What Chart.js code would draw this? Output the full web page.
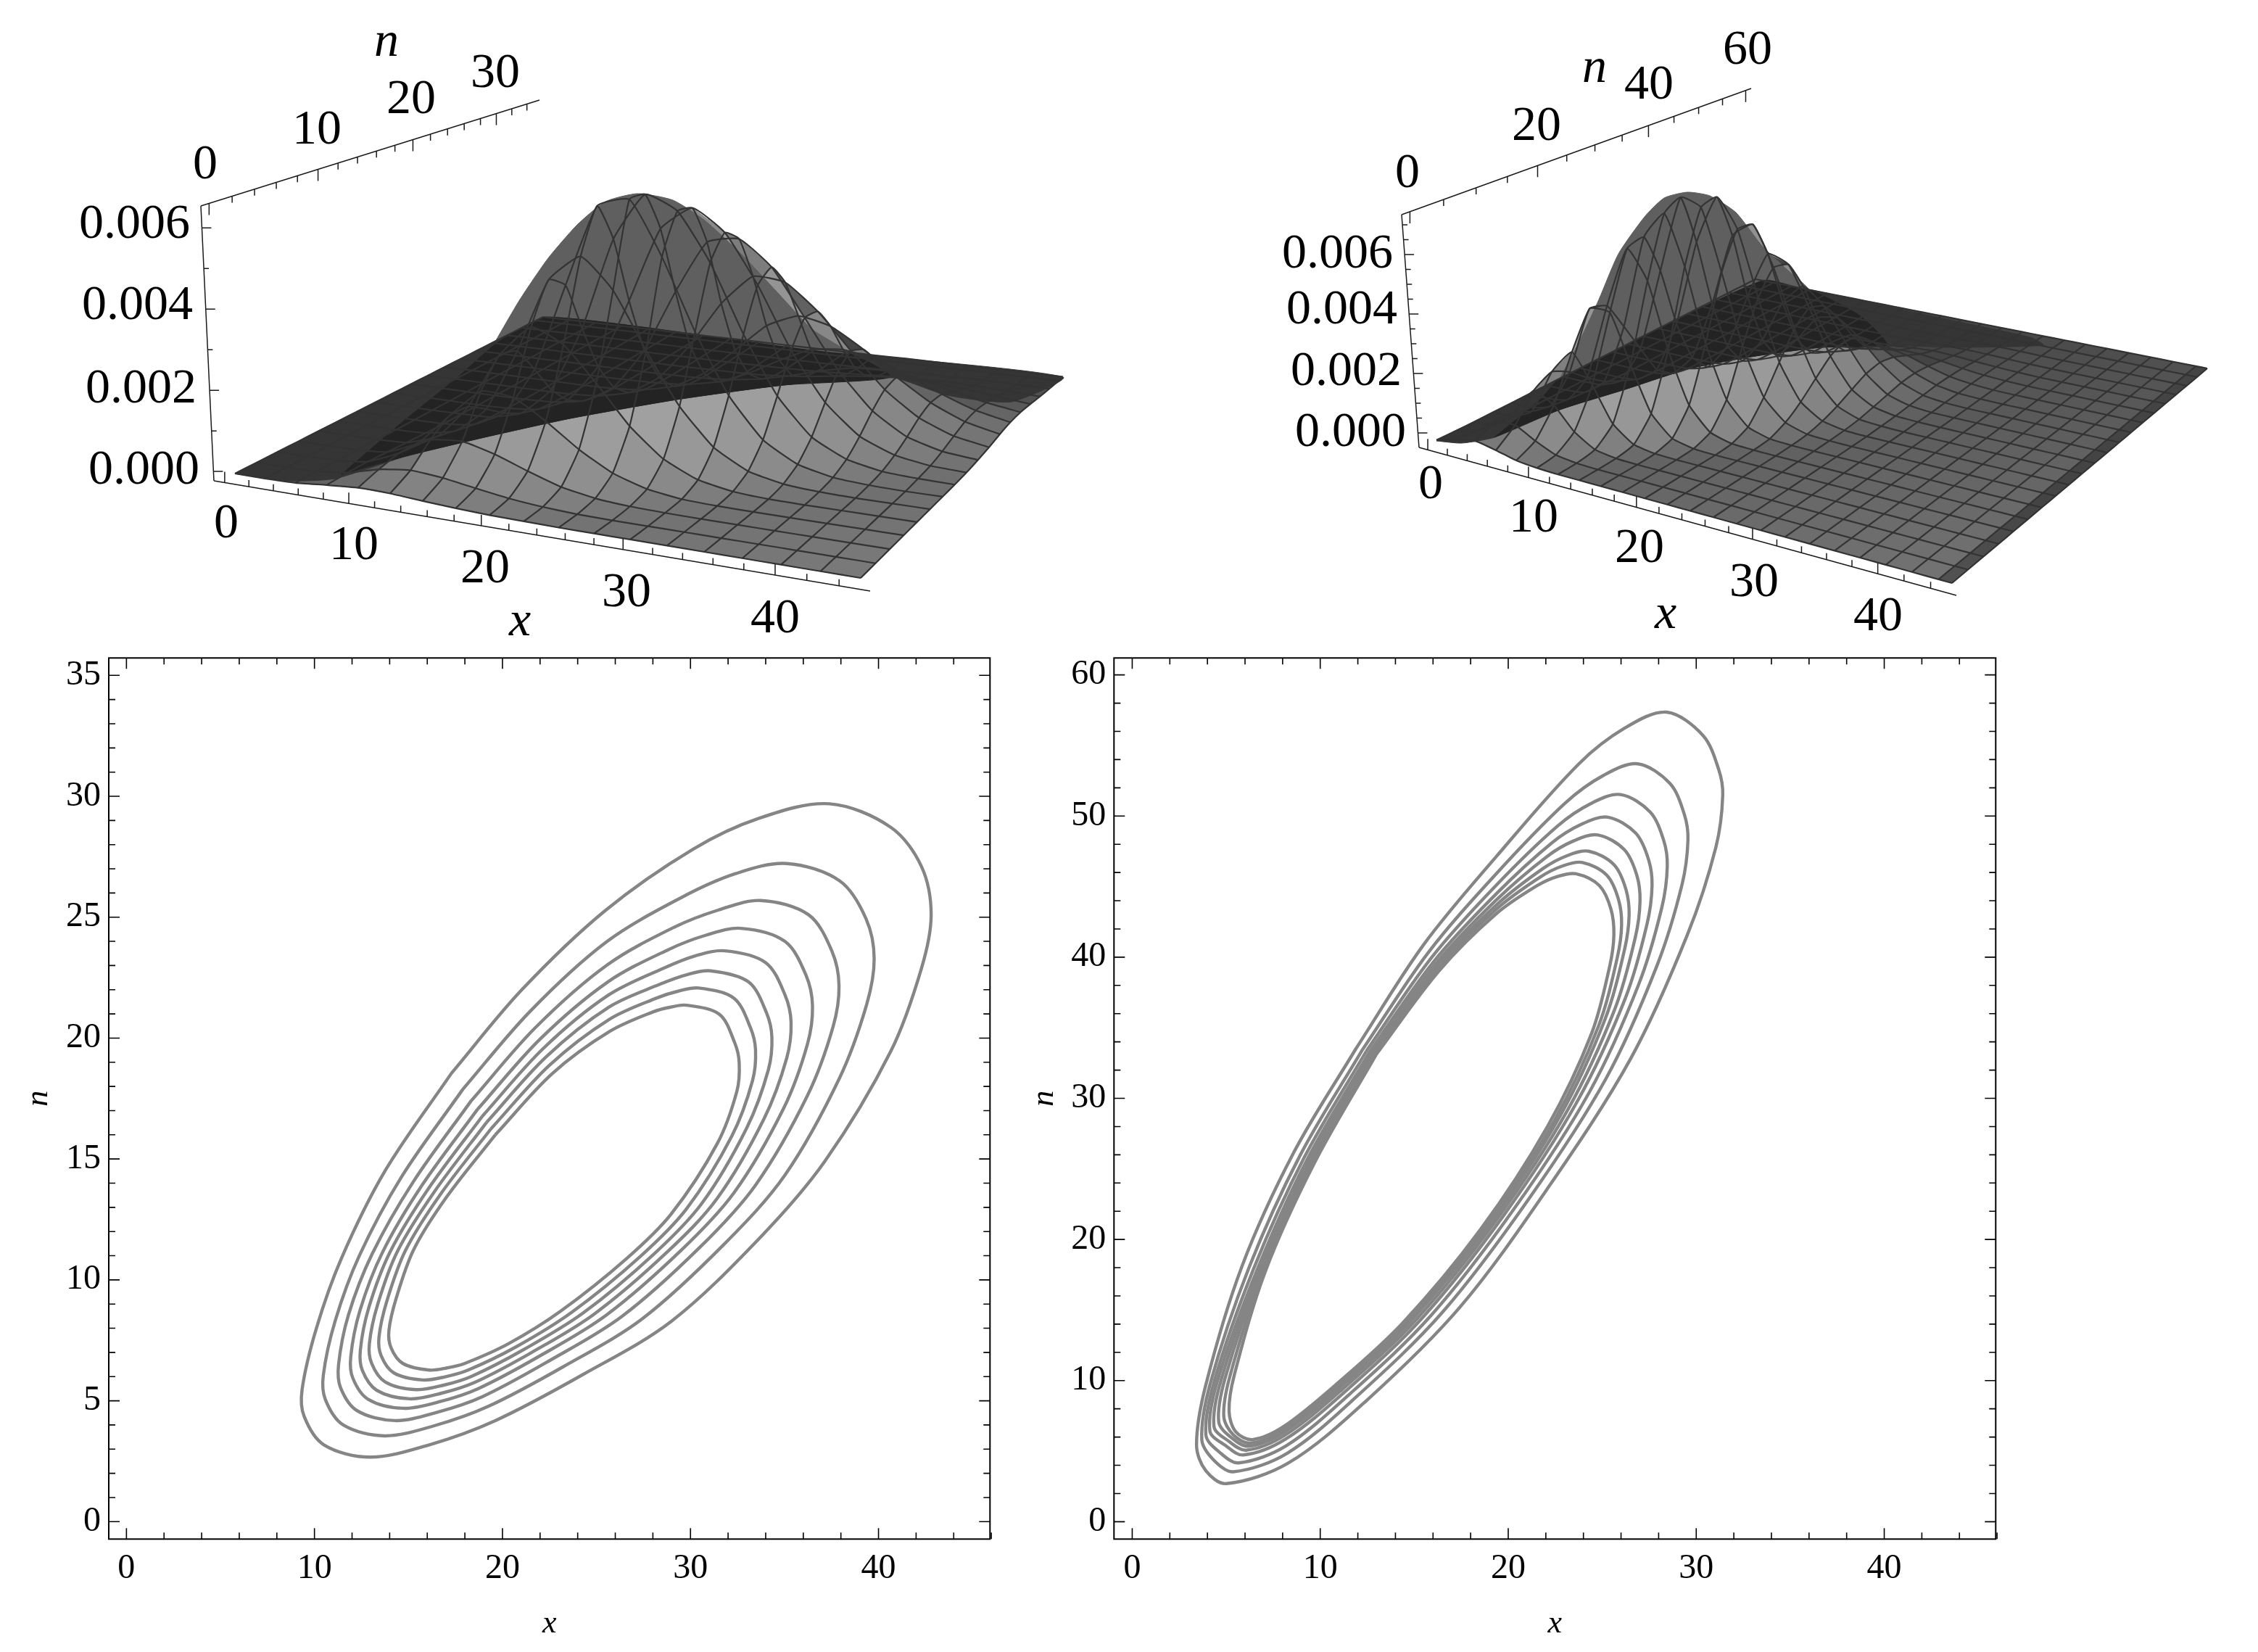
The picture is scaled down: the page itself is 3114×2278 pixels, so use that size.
<!DOCTYPE html>
<html>
<head>
<meta charset="utf-8">
<title>Surface and contour plots</title>
<script src="https://cdn.jsdelivr.net/npm/chart.js@4/dist/chart.umd.js"></script>
<style>
html, body { margin: 0; background: #fff; }
#page { position: relative; width: 3114px; height: 2278px; overflow: hidden; background: #fff; }
canvas { position: absolute; }
</style>
</head>
<body>
<div id="page">
  <canvas id="surfaceLeft" width="1556" height="900" style="left:0;top:0"></canvas>
  <canvas id="surfaceRight" width="1558" height="900" style="left:1556px;top:0"></canvas>
  <canvas id="contourLeft" width="1390" height="1378" style="left:0;top:900px"></canvas>
  <canvas id="contourRight" width="1410" height="1378" style="left:1390px;top:900px"></canvas>
</div>
<script>
// surface heights are in units of 1e-5, rows follow the n grid, columns the x grid
const leftXGrid = [0, 2.5, 5, 7.5, 10, 12.5, 15, 17.5, 20, 22.5, 25, 27.5, 30, 32.5, 35, 37.5, 40, 42.5, 45];
const leftNGrid = [0, 2, 4, 6, 8, 10, 12, 14, 16, 18, 20, 22, 24, 26, 28, 30, 32, 34, 35];
const leftSurface = [
  [0,0,2,9,15,14,9,5,2,1,0,0,0,0,0,0,0,0,0],
  [0,0,2,11,31,41,35,23,12,5,1,0,0,0,0,0,0,0,0],
  [0,0,1,11,43,87,95,76,48,23,9,3,1,0,0,0,0,0,0],
  [0,0,1,8,42,120,191,186,140,84,40,15,4,1,0,0,0,0,0],
  [0,0,1,5,32,117,255,334,300,217,125,58,21,6,1,0,0,0,0],
  [0,0,0,3,20,86,242,429,495,420,283,158,71,26,8,2,0,0,0],
  [0,0,0,1,10,51,173,395,602,625,490,315,170,74,27,8,2,0,0],
  [0,0,0,1,4,25,97,264,500,620,585,464,296,155,66,24,7,2,0],
  [0,0,0,0,2,10,45,143,322,515,575,520,396,243,125,53,19,5,1],
  [0,0,0,0,1,4,18,65,172,333,469,485,421,302,180,90,37,13,4],
  [0,0,0,0,0,1,7,26,77,172,290,369,362,296,205,118,58,24,8],
  [0,0,0,0,0,0,2,9,29,74,145,219,254,236,186,125,71,34,14],
  [0,0,0,0,0,0,1,3,10,27,60,105,143,153,137,104,68,37,18],
  [0,0,0,0,0,0,0,1,3,9,21,41,64,81,82,70,51,32,18],
  [0,0,0,0,0,0,0,0,1,2,6,14,25,35,41,39,33,23,14],
  [0,0,0,0,0,0,0,0,0,1,2,4,8,13,16,18,17,13,9],
  [0,0,0,0,0,0,0,0,0,0,1,1,2,4,5,6,7,6,5],
  [0,0,0,0,0,0,0,0,0,0,0,0,1,1,2,2,2,2,2],
  [0,0,0,0,0,0,0,0,0,0,0,0,0,1,1,1,1,1,1]
];

const rightXGrid = [0,2,4,6,8,10,12,14,16,18,20,22,24,26,28,30,32,34,36,38,40,42,44,45];
const rightNGrid = [0,3,6,9,12,15,18,21,24,27,30,33,36,39,42,45,48,51,54,57,60];
const rightSurface = [
  [3,22,35,23,8,2,0,0,0,0,0,0,0,0,0,0,0,0,0,0,0,0,0,0],
  [1,17,67,73,39,11,2,0,0,0,0,0,0,0,0,0,0,0,0,0,0,0,0,0],
  [0,7,66,157,125,54,13,2,0,0,0,0,0,0,0,0,0,0,0,0,0,0,0,0],
  [0,2,38,190,273,178,65,14,2,0,0,0,0,0,0,0,0,0,0,0,0,0,0,0],
  [0,1,23,158,392,393,233,85,19,3,0,0,0,0,0,0,0,0,0,0,0,0,0,0],
  [0,1,14,108,373,585,488,268,98,24,4,1,0,0,0,0,0,0,0,0,0,0,0,0],
  [0,0,8,64,272,599,694,524,276,102,27,5,1,0,0,0,0,0,0,0,0,0,0,0],
  [0,0,4,35,165,455,725,703,491,254,95,27,5,1,0,0,0,0,0,0,0,0,0,0],
  [0,0,1,9,61,240,543,715,615,390,184,65,17,3,0,0,0,0,0,0,0,0,0,0],
  [0,0,0,2,16,91,297,554,607,469,270,114,36,8,2,0,0,0,0,0,0,0,0,0],
  [0,0,0,0,3,25,117,311,477,453,314,161,61,18,4,1,0,0,0,0,0,0,0,0],
  [0,0,0,0,1,5,33,126,276,349,293,184,85,29,8,1,0,0,0,0,0,0,0,0],
  [0,0,0,0,0,0,7,37,114,207,221,167,94,39,12,3,0,0,0,0,0,0,0,0],
  [0,0,0,0,0,0,1,8,35,89,132,122,83,42,16,4,1,0,0,0,0,0,0,0],
  [0,0,0,0,0,0,0,1,7,28,59,72,59,36,16,6,1,0,0,0,0,0,0,0],
  [0,0,0,0,0,0,0,0,1,6,19,33,34,25,14,6,2,0,0,0,0,0,0,0],
  [0,0,0,0,0,0,0,0,0,1,4,11,16,14,9,5,2,0,0,0,0,0,0,0],
  [0,0,0,0,0,0,0,0,0,0,1,3,5,6,5,3,1,0,0,0,0,0,0,0],
  [0,0,0,0,0,0,0,0,0,0,0,0,1,2,2,2,1,0,0,0,0,0,0,0],
  [0,0,0,0,0,0,0,0,0,0,0,0,0,1,1,1,0,0,0,0,0,0,0,0],
  [0,0,0,0,0,0,0,0,0,0,0,0,0,0,0,0,0,0,0,0,0,0,0,0]
];

// tone regions seen on the surfaces, in plot pixels of each 3D panel
const leftDarkZone = [[324,653],[683,471],[756,436],[1169,487],[1466,520],[1395,554],[1306,545],[1228,520],[1081,531],[933,551],[786,577],[668,603],[560,629],[462,660],[393,663]];
const leftBand = [[471,654],[550,586],[629,522],[688,471],[756,436],[1169,487],[1228,520],[1081,531],[933,551],[786,577],[668,603],[560,629]];
const leftHumpTop = [[683,471],[717,413],[756,356],[796,310],[835,278],[879,267],[928,276],[972,304],[1022,350],[1071,402],[1120,454],[1169,487],[756,436]];
const rightDarkZone = [[1981,608],[2151,522],[2430,386],[2494,399],[2692,442],[2800,465],[2818,476],[2692,479],[2602,476],[2512,479],[2421,491],[2331,508],[2241,537],[2151,565],[2061,603],[2016,611]];
const rightBand = [[2061,603],[2124,551],[2151,522],[2430,386],[2494,399],[2566,436],[2602,476],[2512,479],[2421,491],[2331,508],[2241,537],[2151,565]];
const rightHumpTop = [[2151,522],[2178,471],[2205,413],[2232,350],[2268,299],[2295,273],[2327,265],[2358,270],[2394,293],[2430,339],[2466,373],[2494,399],[2430,386]];

// contour lines [x, n]
const leftContour1 = [[17.28,18.54],[21.02,21.99],[25.46,25.27],[30.13,27.81],[33.64,29.09],[37.38,29.69],[40.65,28.72],[42.29,27.09],[42.80,25.09],[42.29,22.90],[40.65,19.45],[37.14,14.90],[33.64,11.70],[28.97,8.28],[24.29,6.09],[19.62,4.18],[16.11,3.18],[12.96,2.67],[10.50,3.18],[9.45,4.36],[9.34,5.45],[10.10,7.99],[11.44,10.90],[13.78,14.54]];
const leftContour2 = [[17.89,17.88],[21.45,21.09],[25.52,23.97],[29.51,25.81],[32.40,26.80],[35.12,27.22],[37.94,26.50],[39.34,24.93],[39.77,23.28],[39.37,21.39],[37.91,18.32],[35.02,14.33],[31.82,11.50],[27.45,8.40],[23.26,6.42],[19.22,4.76],[16.34,3.96],[13.73,3.55],[11.53,4.00],[10.58,5.05],[10.47,6.05],[11.10,8.30],[12.38,10.99],[14.63,14.26]];
const leftContour3 = [[18.33,17.40],[21.76,20.44],[25.56,23.02],[29.12,24.58],[31.50,25.30],[33.73,25.69],[36.28,25.10],[37.52,23.60],[37.90,22.16],[37.58,20.46],[36.22,17.62],[33.46,13.92],[30.49,11.34],[26.34,8.48],[22.50,6.66],[18.93,5.17],[16.50,4.52],[14.28,4.18],[12.27,4.59],[11.39,5.54],[11.28,6.48],[11.80,8.53],[13.06,11.06],[15.25,14.05]];
const leftContour4 = [[18.66,17.04],[21.99,19.95],[25.60,22.32],[28.83,23.66],[30.80,24.25],[32.68,24.54],[35.02,24.00],[36.15,22.59],[36.49,21.32],[36.22,19.75],[34.95,17.09],[32.32,13.61],[29.50,11.22],[25.52,8.54],[21.95,6.84],[18.70,5.50],[16.64,4.96],[14.72,4.69],[12.86,5.06],[12.04,5.94],[11.93,6.82],[12.41,8.71],[13.60,11.11],[15.71,13.90]];
const leftContour5 = [[18.92,16.76],[22.17,19.57],[25.62,21.77],[28.60,22.90],[30.25,23.40],[31.83,23.61],[34.00,23.12],[35.03,21.78],[35.35,20.64],[35.12,19.18],[33.91,16.66],[31.42,13.37],[28.73,11.13],[24.87,8.58],[21.51,6.98],[18.52,5.76],[16.74,5.31],[15.07,5.08],[13.32,5.43],[12.55,6.25],[12.44,7.09],[12.89,8.85],[14.02,11.15],[16.07,13.78]];
const leftContour6 = [[19.15,16.51],[22.33,19.23],[25.64,21.27],[28.39,22.23],[29.80,22.62],[31.07,22.78],[33.09,22.32],[34.04,21.05],[34.33,20.03],[34.14,18.68],[32.99,16.28],[30.60,13.16],[28.03,11.05],[24.29,8.63],[21.11,7.11],[18.35,6.01],[16.84,5.64],[15.40,5.46],[13.76,5.78],[13.04,6.55],[12.92,7.35],[13.36,8.98],[14.42,11.19],[16.40,13.67]];
const leftContour7 = [[19.39,16.25],[22.50,18.88],[25.67,20.77],[28.21,21.66],[29.35,21.94],[30.43,22.07],[32.31,21.65],[33.19,20.43],[33.46,19.51],[33.30,18.24],[32.20,15.95],[29.79,12.94],[27.33,10.97],[23.70,8.67],[20.72,7.23],[18.17,6.27],[16.94,5.99],[15.75,5.86],[14.23,6.15],[13.55,6.86],[13.43,7.62],[13.85,9.12],[14.85,11.23],[16.72,13.56]];
const leftContour8 = [[19.62,16.00],[22.66,18.54],[25.69,20.27],[28.03,21.09],[28.95,21.28],[29.78,21.36],[31.54,20.98],[32.35,19.81],[32.59,18.99],[32.47,17.81],[31.42,15.63],[28.97,12.72],[26.63,10.90],[23.12,8.72],[20.32,7.36],[17.98,6.54],[17.05,6.36],[16.11,6.27],[14.71,6.54],[14.08,7.18],[13.96,7.90],[14.36,9.27],[15.29,11.27],[17.05,13.45]];

const rightContour1 = [[11.90,33.52],[15.48,40.85],[19.34,47.09],[23.75,53.69],[26.23,56.26],[28.43,57.36],[30.36,55.71],[31.19,53.32],[31.41,51.49],[31.05,47.82],[29.53,41.59],[26.50,32.78],[22.09,23.61],[17.41,15.17],[12.45,8.57],[8.32,4.17],[5.01,2.70],[3.91,3.62],[3.42,5.45],[3.91,9.67],[5.84,18.11],[8.60,26.18]];
const rightContour2 = [[12.23,33.41],[15.73,40.30],[19.34,45.88],[23.04,50.93],[25.08,52.89],[26.89,53.70],[28.60,52.31],[29.36,50.15],[29.56,48.32],[29.24,45.12],[27.90,39.36],[25.18,31.35],[21.02,22.73],[16.50,14.84],[11.96,8.90],[8.25,4.86],[5.38,3.54],[4.34,4.36],[3.70,5.83],[4.15,9.79],[6.21,18.00],[8.93,25.96]];
const rightContour3 = [[12.45,33.34],[15.90,39.94],[19.34,45.07],[22.62,49.29],[24.40,50.89],[25.97,51.52],[27.55,50.28],[28.27,48.27],[28.46,46.44],[28.17,43.52],[26.93,38.04],[24.30,30.40],[20.30,22.15],[15.90,14.62],[11.63,9.12],[8.19,5.38],[5.66,4.17],[4.66,4.91],[3.92,6.14],[4.35,9.88],[6.46,17.93],[9.15,25.81]];
const rightContour4 = [[12.62,33.28],[16.02,39.66],[19.34,44.46],[22.31,48.09],[23.90,49.42],[25.30,49.92],[26.78,48.79],[27.47,46.89],[27.65,45.06],[27.38,42.33],[26.22,37.06],[23.63,29.68],[19.76,21.71],[15.44,14.46],[11.38,9.29],[8.14,5.84],[5.91,4.73],[4.95,5.41],[4.13,6.43],[4.53,9.97],[6.65,17.87],[9.32,25.70]];
const rightContour5 = [[12.74,33.24],[16.11,39.46],[19.34,44.02],[22.07,47.14],[23.51,48.26],[24.77,48.66],[26.17,47.62],[26.84,45.80],[27.01,43.97],[26.76,41.41],[25.66,36.29],[23.15,29.15],[19.37,21.38],[15.11,14.33],[11.20,9.41],[8.11,6.12],[6.06,5.07],[5.13,5.71],[4.35,6.74],[4.73,10.06],[6.78,17.83],[9.44,25.62]];
const rightContour6 = [[12.84,33.21],[16.19,39.29],[19.34,43.66],[21.85,46.28],[23.15,47.20],[24.28,47.51],[25.62,46.56],[26.26,44.81],[26.43,42.98],[26.19,40.56],[25.15,35.60],[22.75,28.73],[19.05,21.12],[14.83,14.24],[11.05,9.51],[8.09,6.35],[6.18,5.35],[5.27,5.96],[4.60,7.08],[4.94,10.17],[6.89,17.80],[9.54,25.55]];
const rightContour7 = [[12.91,33.18],[16.24,39.17],[19.34,43.37],[21.69,45.67],[22.90,46.47],[23.95,46.71],[25.24,45.81],[25.86,44.11],[26.03,42.28],[25.80,39.97],[24.80,35.11],[22.44,28.39],[18.80,20.91],[14.62,14.16],[10.93,9.58],[8.07,6.53],[6.28,5.57],[5.38,6.15],[4.87,7.46],[5.19,10.28],[6.98,17.77],[9.61,25.50]];
const rightContour8 = [[13.00,33.15],[16.31,39.02],[19.34,43.05],[21.54,45.07],[22.65,45.73],[23.61,45.91],[24.85,45.07],[25.46,43.42],[25.62,41.59],[25.40,39.38],[24.44,34.62],[22.09,28.01],[18.51,20.68],[14.38,14.07],[10.80,9.67],[8.05,6.74],[6.39,5.82],[5.51,6.37],[5.15,7.84],[5.43,10.40],[7.08,17.74],[9.70,25.44]];

// tick labels and values
const xMajorTicks = [0, 10, 20, 30, 40];
const xMinorTicks = [2,4,6,8,12,14,16,18,22,24,26,28,32,34,36,38,42,44,46];
const leftNMajorTicks = [0, 5, 10, 15, 20, 25, 30, 35];
const leftNMinorTicks = [1,2,3,4,6,7,8,9,11,12,13,14,16,17,18,19,21,22,23,24,26,27,28,29,31,32,33,34];
const rightNMajorTicks = [0, 10, 20, 30, 40, 50, 60];
const rightNMinorTicks = [2,4,6,8,12,14,16,18,22,24,26,28,32,34,36,38,42,44,46,48,52,54,56,58];
const leftBoxNTicks = [0,2,4,6,8,10,12,14,16,18,20,22,24,26,28,30,32,34];
const rightBoxNTicks = [0,5,10,15,20,25,30,35,40,45,50,55,60];
const leftBoxZTicks = [0,0.001,0.002,0.003,0.004,0.005,0.006];
const rightBoxZTicks = [0,0.0005,0.001,0.0015,0.002,0.0025,0.003,0.0035,0.004,0.0045,0.005,0.0055,0.006,0.0065,0.007];

const SERIF = '"Liberation Serif", "Times New Roman", serif';
const MESH = '#333333';

// turns (x, n, z) into plot pixels from where the four base corners landed
function makeView(p00, p10, p11, p01, xMax, nMax, zScale) {
    const dx1 = [p10[0] - p11[0], p10[1] - p11[1]];
    const dx2 = [p01[0] - p11[0], p01[1] - p11[1]];
    const s = [p00[0] - p10[0] + p11[0] - p01[0], p00[1] - p10[1] + p11[1] - p01[1]];
    const det = (a, b) => a[0] * b[1] - a[1] * b[0];
    const d = det(dx1, dx2);
    const g = det(s, dx2) / d;
    const h = det(dx1, s) / d;
    return function (x, n, z) {
        const u = x / xMax, v = n / nMax;
        const w = 1 + g * u + h * v;
        return {
            x: (p00[0] + u * (p10[0] * (1 + g) - p00[0]) + v * (p01[0] * (1 + h) - p00[0])) / w,
            y: (p00[1] + u * (p10[1] * (1 + g) - p00[1]) + v * (p01[1] * (1 + h) - p00[1])) / w - (z || 0) * zScale / w,
        };
    };
}

function toneForCell(corners, density) {
    let area = 0;
    corners.forEach(function (p, i) {
        const q = corners[(i + 1) % corners.length];
        area += p.x * q.y - q.x * p.y;
    });
    const size = Math.sqrt(Math.abs(area) / 2 / density);
    const gap = Math.min(0.92, Math.max(0.14, 1 - 3.0 / size));
    const grey = Math.round(47 + gap * (196 - 47));
    return 'rgb(' + grey + ',' + grey + ',' + grey + ')';
}

function polygonDataset(points, color, order) {
    const data = points.map(function (p) { return { x: p[0], y: p[1] }; });
    data.push(data[0]);
    return { data, showLine: true, fill: 'shape', backgroundColor: color, borderColor: color, borderWidth: 1, pointRadius: 0, tension: 0.2, order };
}

function surfaceDatasets(view, xGrid, nGrid, table, density) {
    const sets = [];
    const at = (i, j) => view(xGrid[i], nGrid[j], table[j][i]);
    // nearest cells first, the library paints the last dataset first
    for (let j = 0; j < nGrid.length - 1; j++) {
        for (let i = xGrid.length - 2; i >= 0; i--) {
            const corners = [at(i, j), at(i + 1, j), at(i + 1, j + 1), at(i, j + 1)];
            const tone = toneForCell(corners, density);
            sets.push({ data: corners.concat([corners[0]]), showLine: true, fill: 'shape', backgroundColor: tone, borderColor: tone, borderWidth: 1, pointRadius: 0, order: 5 });
        }
    }
    const line = (data) => ({ data, showLine: true, borderColor: MESH, borderWidth: 2.2, pointRadius: 0, tension: 0.15, order: 1 });
    nGrid.forEach(function (n, j) { sets.push(line(xGrid.map((x, i) => at(i, j)))); });
    xGrid.forEach(function (x, i) { sets.push(line(nGrid.map((n, j) => at(i, j)))); });
    return sets;
}

// box edges and ticks, one dataset with breaks between the pieces
function boxDataset(view, box) {
    const data = [];
    const piece = (a, b) => { data.push(a, b, { x: null, y: null }); };
    const along = (a, b, t) => ({ x: a[0] + (b[0] - a[0]) * t, y: a[1] + (b[1] - a[1]) * t });
    piece({ x: box.origin[0], y: box.origin[1] }, { x: box.xEnd[0], y: box.xEnd[1] });
    piece({ x: box.origin[0], y: box.origin[1] }, { x: box.zTop[0], y: box.zTop[1] });
    piece({ x: box.zTop[0], y: box.zTop[1] }, { x: box.nEnd[0], y: box.nEnd[1] });

    const qx = (x) => view(x, 0, 0).x;
    const xLo = qx(-0.9), xHi = qx(45.9);
    box.xTicks.forEach(function (x) {
        const p = along(box.origin, box.xEnd, (qx(x) - xLo) / (xHi - xLo));
        piece(p, { x: p.x, y: p.y - (x % 10 === 0 ? 15 : 9) });
    });
    const qn = (n) => view(0, n, 0).x;
    const nLo = qn(box.nRange[0]), nHi = qn(box.nRange[1]);
    box.nTicks.forEach(function (n) {
        const p = along(box.zTop, box.nEnd, (qn(n) - nLo) / (nHi - nLo));
        piece(p, { x: p.x, y: p.y + (n % box.nMajor === 0 ? 16 : 9) });
    });
    box.zTicks.forEach(function (z) {
        const p = along(box.origin, box.zTop, (z - box.zRange[0]) / (box.zRange[1] - box.zRange[0]));
        const major = Math.abs(z / 0.002 - Math.round(z / 0.002)) < 1e-6;
        piece(p, { x: p.x + (major ? 13 : 7), y: p.y });
    });
    return { data, showLine: true, borderColor: '#1a1a1a', borderWidth: 1.5, pointRadius: 0, tension: 0, spanGaps: false, order: 0 };
}

// text around the 3D boxes, placed through the chart scales
function labelPlugin(labels) {
    return {
        id: 'boxLabels',
        afterDraw(chart) {
            const ctx = chart.ctx, sx = chart.scales.x, sy = chart.scales.y;
            ctx.save();
            ctx.fillStyle = '#000';
            ctx.textBaseline = 'middle';
            labels.forEach(function (l) {
                ctx.font = (l.italic ? 'italic ' : '') + '68px ' + SERIF;
                ctx.textAlign = l.align || 'center';
                ctx.fillText(l.text, sx.getPixelForValue(l.x), sy.getPixelForValue(l.y));
            });
            ctx.restore();
        },
    };
}

function surfaceChart(id, xRange, datasets, labels) {
    return new Chart(document.getElementById(id), {
        type: 'scatter',
        data: { datasets },
        plugins: [labelPlugin(labels)],
        options: {
            responsive: false,
            animation: false,
            devicePixelRatio: 1,
            events: [],
            plugins: { legend: { display: false }, tooltip: { enabled: false } },
            scales: {
                x: { type: 'linear', display: false, min: xRange[0], max: xRange[1] },
                y: { type: 'linear', display: false, min: 0, max: 900, reverse: true },
            },
        },
    });
}

function frameTicksPlugin(xMajor, xMinor, yMajor, yMinor) {
    return {
        id: 'frameTicks',
        afterDraw(chart) {
            const ctx = chart.ctx, a = chart.chartArea, sx = chart.scales.x, sy = chart.scales.y;
            ctx.save();
            ctx.strokeStyle = '#000';
            ctx.lineWidth = 2;
            ctx.strokeRect(a.left, a.top, a.right - a.left, a.bottom - a.top);
            ctx.lineWidth = 1.6;
            ctx.beginPath();
            const xt = (v, len) => {
                const p = sx.getPixelForValue(v);
                ctx.moveTo(p, a.bottom); ctx.lineTo(p, a.bottom - len);
                if (p <= a.right) { ctx.moveTo(p, a.top); ctx.lineTo(p, a.top + len); }
            };
            const yt = (v, len) => {
                const p = sy.getPixelForValue(v);
                ctx.moveTo(a.left, p); ctx.lineTo(a.left + len, p);
                ctx.moveTo(a.right, p); ctx.lineTo(a.right - len, p);
            };
            xMajor.forEach((v) => xt(v, 15));
            xMinor.forEach((v) => xt(v, 9));
            yMajor.forEach((v) => yt(v, 15));
            yMinor.forEach((v) => yt(v, 9));
            ctx.stroke();
            ctx.restore();
        },
    };
}

function contourChart(id, contours, cfg) {
    const datasets = contours.map(function (points) {
        const data = points.map((p) => ({ x: p[0], y: p[1] }));
        data.push(data[0]);
        return { data, showLine: true, borderColor: '#858585', borderWidth: 4.4, pointRadius: 0, tension: 0.33 };
    });
    return new Chart(document.getElementById(id), {
        type: 'scatter',
        data: { datasets },
        plugins: [frameTicksPlugin(xMajorTicks, xMinorTicks, cfg.nMajor, cfg.nMinor)],
        options: {
            responsive: false,
            animation: false,
            devicePixelRatio: 1,
            events: [],
            layout: { autoPadding: false, padding: { top: 7.3, right: cfg.padRight, left: 0, bottom: 0 } },
            plugins: { legend: { display: false }, tooltip: { enabled: false } },
            scales: {
                x: {
                    type: 'linear', min: cfg.xMin, max: cfg.xMax,
                    grid: { display: false }, border: { display: false },
                    afterBuildTicks(scale) { scale.ticks = xMajorTicks.map((value) => ({ value })); },
                    afterFit(scale) { scale.height = 155.7; scale.paddingLeft = 0; scale.paddingRight = 0; },
                    ticks: { color: '#000', font: { family: SERIF, size: 48 }, padding: 4, maxRotation: 0, autoSkip: false },
                    title: { display: true, text: 'x', color: '#000', font: { family: SERIF, size: 44, style: 'italic' }, padding: { top: 0, bottom: 12 } },
                },
                y: {
                    type: 'linear', min: cfg.nLow, max: cfg.nHigh,
                    grid: { display: false }, border: { display: false },
                    afterBuildTicks(scale) { scale.ticks = cfg.nMajor.map((value) => ({ value })); },
                    afterFit(scale) { scale.width = cfg.axisWidth; scale.paddingTop = 0; scale.paddingBottom = 0; },
                    ticks: { color: '#000', font: { family: SERIF, size: 48 }, padding: 3, autoSkip: false },
                    title: { display: true, text: 'n', color: '#000', font: { family: SERIF, size: 44, style: 'italic' }, padding: { top: cfg.titlePad, bottom: 0 } },
                },
            },
        },
    });
}

// top left surface
const leftView = makeView([324, 653], [1187, 797], [1466, 520], [749, 437], 45, 35, 0.565);
surfaceChart('surfaceLeft', [0, 1556], [
    boxDataset(leftView, {
        origin: [295, 663], xEnd: [1200, 815], zTop: [277, 284], nEnd: [744, 138],
        xTicks: xMajorTicks.concat(xMinorTicks.slice(0, -1)), nTicks: leftBoxNTicks, nMajor: 10, nRange: [-0.7, 35.7],
        zTicks: leftBoxZTicks, zRange: [-0.00023, 0.00654],
    }),
    polygonDataset(leftHumpTop, '#5f5f5f', 2),
    polygonDataset(leftBand, '#232323', 3),
    polygonDataset(leftDarkZone, '#353535', 4),
].concat(surfaceDatasets(leftView, leftXGrid, leftNGrid, leftSurface, 36)), [
    { text: '0.000', x: 275, y: 649, align: 'right' },
    { text: '0.002', x: 271, y: 537, align: 'right' },
    { text: '0.004', x: 266, y: 422, align: 'right' },
    { text: '0.006', x: 262, y: 310, align: 'right' },
    { text: '0', x: 312, y: 723 }, { text: '10', x: 488, y: 753 }, { text: '20', x: 669, y: 785 },
    { text: '30', x: 864, y: 818 }, { text: '40', x: 1069, y: 854 }, { text: 'x', x: 717, y: 858, italic: true },
    { text: '0', x: 283, y: 228 }, { text: '10', x: 437, y: 180 }, { text: '20', x: 567, y: 138 },
    { text: '30', x: 683, y: 102 }, { text: 'n', x: 533, y: 59, italic: true },
]);

// top right surface
const rightView = makeView([1981, 608], [2692, 804], [3044, 508], [2421, 385], 45, 60, 0.41);
surfaceChart('surfaceRight', [1556, 3114], [
    boxDataset(rightView, {
        origin: [1957, 617], xEnd: [2698, 821], zTop: [1933, 296], nEnd: [2415, 122],
        xTicks: xMajorTicks.concat(xMinorTicks.slice(0, -1)), nTicks: rightBoxNTicks, nMajor: 20, nRange: [-1.2, 61.2],
        zTicks: rightBoxZTicks, zRange: [-0.00049, 0.00734],
    }),
    polygonDataset(rightHumpTop, '#5f5f5f', 2),
    polygonDataset(rightBand, '#232323', 3),
    polygonDataset(rightDarkZone, '#353535', 4),
].concat(surfaceDatasets(rightView, rightXGrid, rightNGrid, rightSurface, 30)), [
    { text: '0.000', x: 1939, y: 597, align: 'right' },
    { text: '0.002', x: 1933, y: 513, align: 'right' },
    { text: '0.004', x: 1927, y: 428, align: 'right' },
    { text: '0.006', x: 1921, y: 351, align: 'right' },
    { text: '0', x: 1973, y: 669 }, { text: '10', x: 2115, y: 715 }, { text: '20', x: 2261, y: 757 },
    { text: '30', x: 2419, y: 804 }, { text: '40', x: 2590, y: 851 }, { text: 'x', x: 2297, y: 848, italic: true },
    { text: '0', x: 1941, y: 240 }, { text: '20', x: 2119, y: 175 }, { text: '40', x: 2274, y: 118 },
    { text: '60', x: 2410, y: 70 }, { text: 'n', x: 2199, y: 95, italic: true },
]);

// bottom contour plots
contourChart('contourLeft',
    [leftContour1, leftContour2, leftContour3, leftContour4, leftContour5, leftContour6, leftContour7, leftContour8], {
        xMin: -0.94, xMax: 45.93, nLow: -0.72, nHigh: 35.72, nMajor: leftNMajorTicks, nMinor: leftNMinorTicks,
        axisWidth: 150, padRight: 24.7, titlePad: 27,
    });
contourChart('contourRight',
    [rightContour1, rightContour2, rightContour3, rightContour4, rightContour5, rightContour6, rightContour7, rightContour8], {
        xMin: -0.97, xMax: 45.93, nLow: -1.23, nHigh: 61.2, nMajor: rightNMajorTicks, nMinor: rightNMinorTicks,
        axisWidth: 146.3, padRight: 47.7, titlePad: 24,
    });
</script>
</body>
</html>
